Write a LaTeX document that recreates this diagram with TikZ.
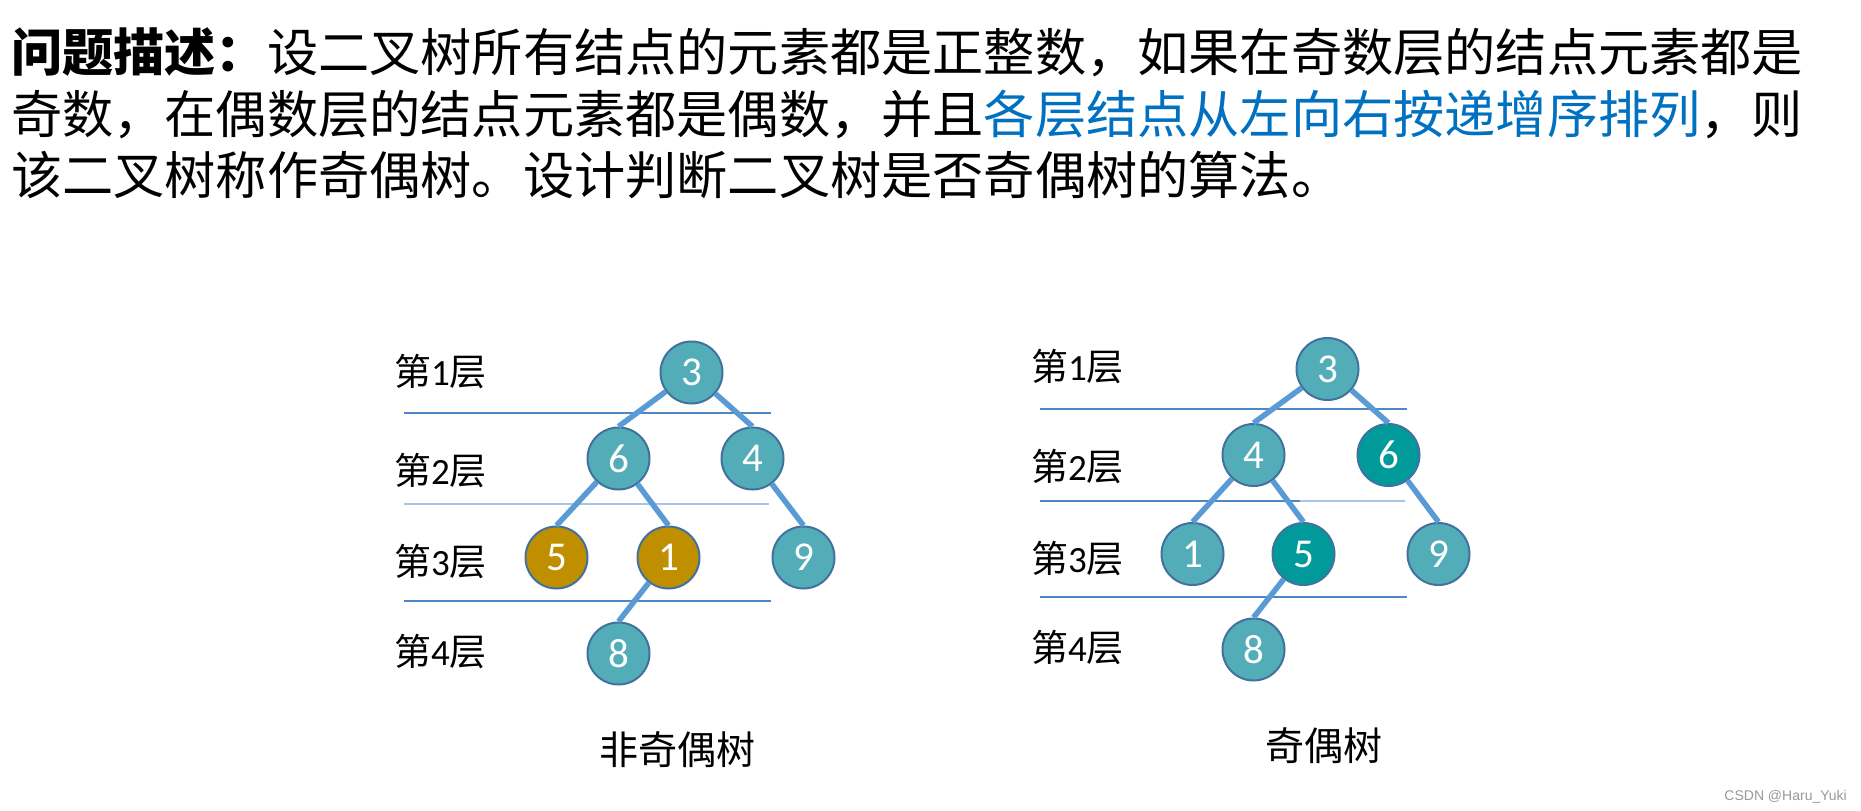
\documentclass[tikz,border=0pt]{standalone}
\usepackage{fontspec}
\newfontfamily\cjk{Noto Sans CJK SC}
\newfontfamily\calib{Carlito}
\newfontfamily\libs{Liberation Sans}
\definecolor{nodeteal}{HTML}{53ADB8}
\definecolor{nodedark}{HTML}{009A9A}
\definecolor{nodegold}{HTML}{BF8F00}
\definecolor{nodeborder}{HTML}{41729E}
\definecolor{edgeblue}{HTML}{5B9BD5}
\definecolor{levelblue}{HTML}{4F86C6}
\definecolor{levellight}{HTML}{A9C4E6}
\definecolor{textblue}{HTML}{0070C0}
\tikzset{
  tnode/.style={circle, minimum size=62pt, inner sep=0pt, draw=nodeborder, line width=2pt,
    fill=nodeteal, text=white, font=\calib\fontsize{41}{41}\selectfont},
  goldnode/.style={tnode, fill=nodegold},
  darknode/.style={tnode, fill=nodedark},
  tedge/.style={draw=edgeblue, line width=5.5pt},
  levelline/.style={draw=levelblue, line width=1.5pt},
  lvl/.style={anchor=base west, inner sep=0pt, font=\fontsize{37}{37}\selectfont},
  headline/.style={anchor=base west, inner sep=0pt, font=\cjk\fontsize{51.2}{61.5}\selectfont},
  caption/.style={anchor=base, inner sep=0pt, font=\cjk\fontsize{39}{39}\selectfont},
}
\newcommand{\lvltext}[1]{{\cjk 第}{\calib #1}{\cjk 层}}
\begin{document}
\begin{tikzpicture}[x=1pt,y=-1pt]
\useasboundingbox[fill=white] (0,0) rectangle (1861,811);

% header text
\node[headline] (h1) at (11,71) {{\bfseries 问题描述：}设二叉树所有结点的元素都是正整数，如果在奇数层的结点元素都是};
\node[headline] (h2) at (11,133) {奇数，在偶数层的结点元素都是偶数，并且{\color{textblue}各层结点从左向右按递增序排列}，则};
\node[headline] (h3) at (11,194) {该二叉树称作奇偶树。设计判断二叉树是否奇偶树的算法。};

% ---------- left tree ----------
\draw[levelline] (404,413) -- (771,413);
\draw[levelline, draw=levellight] (404,504) -- (769,504);
\draw[levelline] (404,601) -- (771,601);

\node[lvl] (L1) at (394,385) {\lvltext{1}};
\node[lvl] (L2) at (394,484) {\lvltext{2}};
\node[lvl] (L3) at (394,575) {\lvltext{3}};
\node[lvl] (L4) at (394,665) {\lvltext{4}};

\node[tnode] (a3) at (691.5,372.5) {3};
\node[tnode] (a6) at (618.5,458.5) {6};
\node[tnode] (a4) at (752.5,458.5) {4};
\node[goldnode] (a5) at (556.5,557.5) {5};
\node[goldnode] (a1) at (668.5,557.5) {1};
\node[tnode] (a9) at (803.5,557.5) {9};
\node[tnode] (a8) at (618.5,653.5) {8};

\draw[tedge] (a3) -- (a6.north);
\draw[tedge] (a3) -- (a4.north);
\draw[tedge] (a6) -- (a5.north);
\draw[tedge] (a6) -- (a1.north);
\draw[tedge] (a4) -- (a9.north);
\draw[tedge] (a1) -- (a8.north);

\node[caption] (capL) at (677,764) {非奇偶树};

% ---------- right tree ----------
\draw[levelline] (1040,409) -- (1407,409);
\draw[levelline] (1040,501) -- (1300,501);
\draw[levelline, draw=levellight] (1300,501) -- (1405,501);
\draw[levelline] (1040,597) -- (1407,597);

\node[lvl] (R1) at (1031,380) {\lvltext{1}};
\node[lvl] (R2) at (1031,480) {\lvltext{2}};
\node[lvl] (R3) at (1031,572) {\lvltext{3}};
\node[lvl] (R4) at (1031,661) {\lvltext{4}};

\node[tnode] (b3) at (1327.5,369) {3};
\node[tnode] (b4) at (1253.5,455) {4};
\node[darknode] (b6) at (1388.5,455) {6};
\node[tnode] (b1) at (1192.5,554) {1};
\node[darknode] (b5) at (1303.5,554) {5};
\node[tnode] (b9) at (1438.5,554) {9};
\node[tnode] (b8) at (1253.5,649.5) {8};

\draw[tedge] (b3) -- (b4.north);
\draw[tedge] (b3) -- (b6.north);
\draw[tedge] (b4) -- (b1.north);
\draw[tedge] (b4) -- (b5.north);
\draw[tedge] (b6) -- (b9.north);
\draw[tedge] (b5) -- (b8.north);

\node[caption] (capR) at (1324,760) {奇偶树};

% watermark
\node[anchor=base east, inner sep=0pt, text=gray!80, font=\libs\fontsize{14}{14}\selectfont] (wm) at (1847,800) {CSDN @Haru\_Yuki};
\end{tikzpicture}
\end{document}
